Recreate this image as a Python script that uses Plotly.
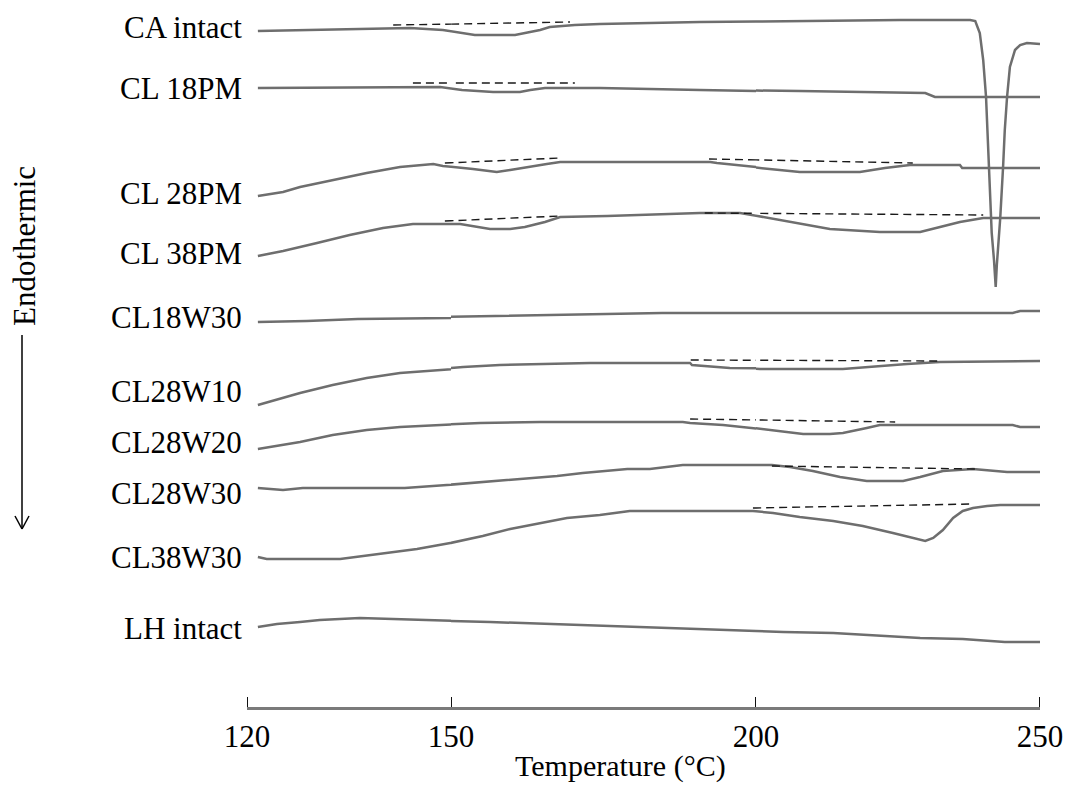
import plotly.graph_objects as go

# ---- Data: temperature (°C) and offset heat-flow signal (a.u.) ----
ca_T = [121.6, 127.8, 141.5, 144.0, 148.8, 151.5, 153.9, 160.5, 162.1, 164.6, 166.2, 170.3, 174.4, 190.8,
        207.7, 225.4, 237.7, 238.6, 239.4, 240.0, 240.5, 240.8, 241.2, 241.5, 241.9, 242.2, 242.4, 242.8,
        243.0, 243.5, 243.8, 244.2, 244.7, 245.6, 246.5, 247.7, 250.0]
ca_v = [699, 700, 702, 702, 700, 697, 695, 695, 697, 700, 703, 705, 706, 708, 709, 710, 710, 709, 697, 670,
        633, 587, 530, 497, 470, 443, 465, 495, 512, 563, 600, 633, 663, 680, 685, 687, 686]

cl18pm_T = [121.6, 142.5, 148.4, 151.8, 156.9, 161.3, 163.0, 165.4, 174.4, 190.8, 207.7, 229.8, 231.5, 250.0]
cl18pm_v = [642, 643, 643, 640, 638, 638, 640, 642, 642, 640, 639, 637, 633, 633]

cl28pm_T = [121.6, 125.3, 127.8, 132.6, 137.6, 142.5, 147.4, 148.8, 153.6, 157.5, 159.7, 162.5, 165.7, 167.9,
            192.5, 193.6, 199.0, 207.7, 218.3, 222.7, 227.1, 235.9, 236.3, 250.0]
cl28pm_v = [534, 538, 543, 550, 557, 563, 566, 564, 561, 558, 560, 563, 566, 568, 568, 567, 563, 558, 558,
            562, 565, 565, 562, 562]

cl38pm_T = [121.6, 125.3, 130.3, 135.1, 140.0, 142.5, 144.4, 151.5, 154.3, 156.4, 159.7, 162.1, 165.4, 167.9,
            175.6, 184.3, 190.8, 197.4, 206.0, 213.0, 221.8, 228.9, 232.4, 235.9, 240.0, 250.0]
cl38pm_v = [474, 479, 487, 495, 502, 504, 506, 506, 503, 501, 501, 503, 508, 513, 514, 516, 517, 517, 508,
            501, 498, 498, 503, 508, 512, 512]

cl18w30_T = [121.6, 128.8, 136.3, 147.2, 164.1, 184.6, 245.2, 246.5, 250.0]
cl18w30_v = [408, 409, 411, 413, 415, 417, 417, 419, 419]

cl28w10_T = [121.6, 127.8, 132.6, 137.6, 142.5, 148.4, 152.0, 158.0, 172.8, 189.2, 189.5, 195.7, 200.7, 215.3,
             221.3, 226.6, 232.4, 247.0, 250.0]
cl28w10_v = [325, 337, 345, 352, 357, 361, 363, 365, 367, 367, 365, 362, 361, 361, 364, 366, 368, 369, 369]

cl28w20_T = [121.6, 127.8, 132.6, 137.6, 142.5, 146.9, 154.8, 164.6, 188.0, 189.2, 194.6, 199.5, 204.8, 208.3,
             213.0, 215.3, 219.5, 221.8, 245.2, 246.5, 250.0]
cl28w20_v = [281, 288, 295, 300, 303, 305, 307, 308, 308, 307, 305, 302, 298, 296, 296, 297, 302, 305, 305,
             303, 303]

cl28w30_T = [121.6, 125.3, 128.2, 143.2, 149.4, 153.4, 157.5, 163.4, 167.4, 171.6, 175.6, 178.9, 182.6, 188.0,
             202.8, 206.0, 210.0, 214.8, 219.5, 225.9, 228.9, 232.9, 238.2, 244.2, 250.0]
cl28w30_v = [242, 240, 242, 242, 245, 247, 249, 252, 254, 257, 259, 261, 261, 265, 265, 263, 259, 253, 249,
             249, 253, 259, 261, 258, 258]

cl38w30_T = [121.6, 122.9, 133.7, 136.9, 140.0, 145.0, 149.9, 155.2, 159.7, 164.6, 169.0, 174.4, 179.3, 188.0,
             199.5, 203.0, 207.7, 213.6, 218.8, 224.1, 227.6, 229.8, 231.2, 232.9, 234.7, 236.4, 238.2, 240.7,
             243.0, 250.0]
cl38w30_v = [173, 171, 171, 174, 177, 181, 187, 194, 201, 207, 212, 215, 219, 219, 219, 217, 213, 209, 204,
             197, 192, 189, 192, 200, 212, 219, 222, 224, 225, 225]

lh_T = [121.6, 124.4, 127.8, 130.7, 136.6, 144.4, 156.4, 165.7, 175.6, 185.9, 195.2, 204.8, 213.6, 221.8,
        228.9, 236.4, 243.8, 250.0]
lh_v = [103, 106, 108, 110, 112, 110, 108, 106, 104, 102, 100, 98, 97, 94, 92, 91, 88, 88]

# dashed baselines: (T_start, T_end, v_start, v_end)
baselines = [
    (141.5, 169.5, 705, 708),   # CA intact
    (144.4, 170.3, 647, 647),   # CL 18PM
    (149.1, 167.9, 567, 572),   # CL 28PM
    (192.3, 227.6, 571, 567),
    (149.1, 167.9, 509, 514),   # CL 38PM
    (191.6, 240.0, 517, 515),
    (189.3, 232.4, 370, 369),   # CL28W10
    (189.2, 224.5, 311, 308),   # CL28W20
    (202.8, 238.9, 264, 261),   # CL28W30
    (199.5, 238.2, 222, 226),   # CL38W30
]

names = ["CA intact", "CL 18PM", "CL 28PM", "CL 38PM", "CL18W30",
         "CL28W10", "CL28W20", "CL28W30", "CL38W30", "LH intact"]
curves = [(ca_T, ca_v), (cl18pm_T, cl18pm_v), (cl28pm_T, cl28pm_v), (cl38pm_T, cl38pm_v),
          (cl18w30_T, cl18w30_v), (cl28w10_T, cl28w10_v), (cl28w20_T, cl28w20_v),
          (cl28w30_T, cl28w30_v), (cl38w30_T, cl38w30_v), (lh_T, lh_v)]
label_v = [702.5, 642, 537, 477, 413, 339, 288, 237, 173, 102]

# axis tick values (the drawn axis is piecewise scaled)
seg_ranges = [(120, 150), (150, 200), (200, 250)]
seg_ticks = [[120], [150, 200], [250]]

# ---- Layout geometry (pixels) ----
W_FIG, H_FIG = 1069, 785
L, R, T, B = 247, 1040, 0, 707
PW, PH = R - L, B - T
seg_px = [(247, 451), (451, 756), (756, 1040)]

def px(x):
    return (x - L) / PW

def py(y):
    return (B - y) / PH

FONT = "Liberation Serif, Times New Roman, serif"
LINE_COLOR = "#6e6e6e"

fig = go.Figure()
axis_ids = ["x", "x2", "x3"]
for ax in axis_ids:
    for (tx, vy) in curves:
        fig.add_trace(go.Scatter(x=tx, y=vy, mode="lines", xaxis=ax, yaxis="y",
                                 line=dict(color=LINE_COLOR, width=2.5), showlegend=False,
                                 hoverinfo="skip"))
    for (t0, t1, v0, v1) in baselines:
        fig.add_trace(go.Scatter(x=[t0, t1], y=[v0, v1], mode="lines", xaxis=ax, yaxis="y",
                                 line=dict(color="#1a1a1a", width=1.4, dash="8px,5px"),
                                 showlegend=False, hoverinfo="skip"))

common_x = dict(showgrid=False, zeroline=False, showline=True, linecolor="#7a7a7a", linewidth=3,
                ticks="inside", ticklen=10, tickwidth=2, tickcolor="#111",
                tickfont=dict(family=FONT, size=31, color="black"), anchor="y", fixedrange=True)
layout_axes = {}
shapes = []
for i, ax in enumerate(axis_ids):
    key = "xaxis" if i == 0 else f"xaxis{i+1}"
    a, b = seg_px[i]
    layout_axes[key] = dict(common_x, range=list(seg_ranges[i]), domain=[px(a), px(b)],
                            tickmode="array", tickvals=seg_ticks[i],
                            ticktext=[str(v) for v in seg_ticks[i]])
    # explicit tick marks drawn upward from the axis line
    for tv in seg_ticks[i]:
        shapes.append(dict(type="line", xref=ax, yref="paper", x0=tv, x1=tv,
                           y0=0, y1=10 / PH, line=dict(color="#111", width=2)))

annotations = []
for name, v in zip(names, label_v):
    annotations.append(dict(text=name, xref="paper", yref="y", x=px(244), y=v, xanchor="right",
                            yanchor="middle", showarrow=False,
                            font=dict(family=FONT, size=31, color="black")))
annotations.append(dict(text="Temperature (°C)", xref="paper", yref="paper", x=px(620), y=py(766),
                        xanchor="center", yanchor="middle", showarrow=False,
                        font=dict(family=FONT, size=30, color="black")))
annotations.append(dict(text="Endothermic", xref="paper", yref="paper", x=px(24), y=py(246),
                        xanchor="center", yanchor="middle", textangle=-90, showarrow=False,
                        font=dict(family=FONT, size=31, color="black")))

arrow = dict(type="line", xref="paper", yref="paper", line=dict(color="black", width=1.5))
shapes += [
    dict(arrow, x0=px(22), x1=px(22), y0=py(335), y1=py(528)),
    dict(arrow, x0=px(15), x1=px(22), y0=py(516), y1=py(529)),
    dict(arrow, x0=px(29), x1=px(22), y0=py(516), y1=py(529)),
]

fig.update_layout(
    width=W_FIG, height=H_FIG,
    margin=dict(l=L, r=W_FIG - R, t=T, b=H_FIG - B),
    paper_bgcolor="white", plot_bgcolor="white",
    yaxis=dict(range=[730 - B, 730 - T], visible=False, fixedrange=True),
    annotations=annotations, shapes=shapes,
    **layout_axes,
)

fig.write_html("out.html")
